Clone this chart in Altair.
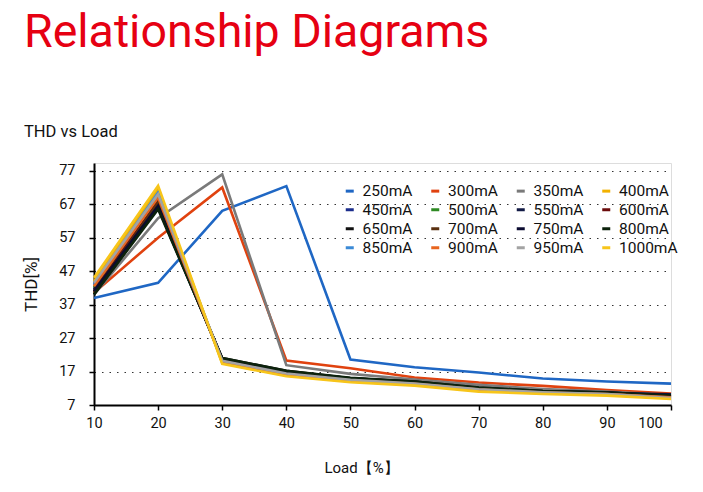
import altair as alt
import pandas as pd

loads = [10, 20, 30, 40, 50, 60, 70, 80, 90, 100]
series_names = ["250mA", "300mA", "350mA", "400mA", "450mA", "500mA", "550mA", "600mA",
                "650mA", "700mA", "750mA", "800mA", "850mA", "900mA", "950mA", "1000mA"]
colors = ["#1f67c4", "#e0420f", "#7a7a7a", "#f2b100", "#1b2d8c", "#2e8a23", "#121a45", "#6b0b0b",
          "#111111", "#5a3010", "#0b0b30", "#0c220c", "#3b8ad6", "#e8651e", "#a3a3a3", "#f7c51a"]

thd_250 = [39, 43.5, 65, 72.4, 20.6, 18.3, 16.7, 14.9, 14.0, 13.4]
thd_300 = [40.5, 57, 72, 20.3, 18.0, 15.2, 13.7, 12.7, 11.5, 10.4]
thd_350 = [40, 62.8, 75.9, 18.9, 16.3, 14.6, 13.0, 11.8, 11.0, 10.0]
thd_400 = [44, 71.5, 19.5, 15.8, 14.0, 13.0, 11.3, 10.5, 10.0, 9.0]
thd_450 = [43, 67, 20.5, 16.8, 14.8, 13.8, 12.0, 11.0, 10.6, 10.0]
thd_500 = [42, 66.5, 20.5, 16.7, 14.7, 13.6, 11.8, 10.8, 10.5, 9.8]
thd_550 = [41.5, 66, 20.8, 17.0, 15.0, 13.8, 12.0, 11.0, 10.6, 10.2]
thd_600 = [41, 68, 20.3, 16.5, 14.6, 13.5, 11.8, 10.8, 10.4, 9.6]
thd_650 = [40, 66, 21.0, 17.2, 15.0, 14.0, 12.2, 11.2, 10.8, 9.5]
thd_700 = [40.5, 67.5, 20.5, 16.8, 14.8, 13.7, 12.0, 11.0, 10.5, 9.5]
thd_750 = [41, 66.5, 20.8, 17.0, 15.0, 13.9, 12.1, 11.1, 10.7, 10.0]
thd_800 = [40, 65.5, 21.0, 17.2, 15.1, 14.0, 12.2, 11.2, 10.7, 9.8]
thd_850 = [43, 70.5, 19.8, 16.0, 14.2, 13.2, 11.5, 10.6, 10.2, 9.2]
thd_900 = [42.5, 69, 20.0, 16.2, 14.3, 13.3, 11.6, 10.7, 10.3, 9.3]
thd_950 = [43.5, 70, 20.2, 16.4, 14.5, 13.4, 11.7, 10.8, 10.3, 9.1]
thd_1000 = [45, 72.5, 19.3, 15.6, 13.8, 12.8, 11.0, 10.3, 9.8, 8.8]

all_series = [thd_250, thd_300, thd_350, thd_400, thd_450, thd_500, thd_550, thd_600,
              thd_650, thd_700, thd_750, thd_800, thd_850, thd_900, thd_950, thd_1000]

y_ticks = [7, 17, 27, 37, 47, 57, 67, 77]

rows = []
for i, (name, vals) in enumerate(zip(series_names, all_series)):
    for x, v in zip(loads, vals):
        rows.append({"series": name, "order": i, "load": x, "thd": v})
df = pd.DataFrame(rows)

FONT = "Roboto"

lines = alt.Chart(df).mark_line(strokeWidth=2.6, clip=False).encode(
    x=alt.X("load:Q", scale=alt.Scale(domain=[10, 100], nice=False),
            axis=alt.Axis(values=loads, title="Load【%】", grid=False, domainColor="#000",
                          domainWidth=2, tickColor="#000", tickSize=5, tickWidth=1.5,
                          labelFontSize=14.5, labelColor="#111", labelPadding=6,
                          labelFlush=False,
                          labelOffset=alt.expr("datum.value == 100 ? -21 : 0"),
                          titleFontSize=15, titleFontWeight="normal", titleColor="#111",
                          titlePadding=31, titleX=267, titleFont=FONT, labelFont=FONT)),
    y=alt.Y("thd:Q", scale=alt.Scale(domain=[7, 79.3], nice=False, zero=False),
            axis=alt.Axis(values=y_ticks, title="THD[%]", grid=True, gridDash=[1.5, 6],
                          gridColor="#333", gridWidth=1.2, domainColor="#000", domainWidth=2,
                          tickColor="#000", tickSize=5, tickWidth=1.5, labelFontSize=14.5,
                          labelColor="#111", labelPadding=14, titleFontSize=17,
                          titleFontWeight="normal", titleColor="#111", titlePadding=18,
                          titleFont=FONT, labelFont=FONT)),
    color=alt.Color("series:N", sort=series_names,
                    scale=alt.Scale(domain=series_names, range=colors),
                    legend=alt.Legend(orient="none", legendX=248, legendY=20, columns=4,
                                      title=None, symbolType="stroke", symbolStrokeWidth=3,
                                      symbolSize=64, labelFontSize=15.5, labelFont=FONT,
                                      labelColor="#111", columnPadding=11.5, rowPadding=2,
                                      labelOffset=5, padding=0, direction="horizontal")),
    order=alt.Order("order:Q"),
    detail="series:N",
)

title_df = pd.DataFrame({"t": ["Relationship Diagrams"]})
title = alt.Chart(title_df).mark_text(align="left", baseline="alphabetic", fontSize=46.5,
                                      font=FONT, color="#e60012").encode(
    x=alt.value(-70), y=alt.value(-116), text="t:N")
sub_df = pd.DataFrame({"t": ["THD vs Load"]})
subtitle = alt.Chart(sub_df).mark_text(align="left", baseline="alphabetic", fontSize=16.5,
                                       font=FONT, color="#111").encode(
    x=alt.value(-70), y=alt.value(-26), text="t:N")

chart = alt.layer(lines, title, subtitle).properties(
    width=577, height=242,
    autosize=alt.AutoSizeParams(type="none"),
    padding={"left": 86, "top": 155, "right": 24, "bottom": 79},
).configure_view(stroke=None).configure(background="white")

chart.save("out.html", embed_options={"renderer": "svg", "actions": False})
